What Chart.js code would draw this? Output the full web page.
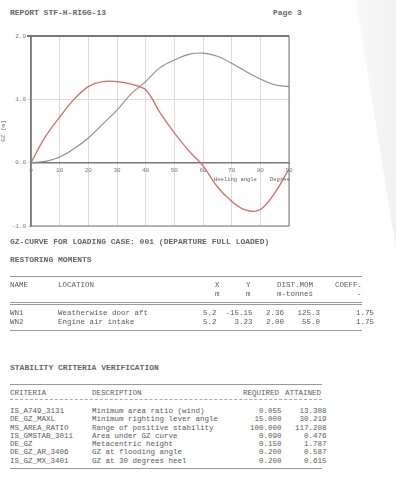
<!DOCTYPE html>
<html>
<head>
<meta charset="utf-8">
<script src="https://cdn.jsdelivr.net/npm/chart.js@4.4.0/dist/chart.umd.min.js"></script>
<style>
body{margin:0;background:#fff;width:396px;height:478px;overflow:hidden;position:relative;
  font-family:"Liberation Mono","DejaVu Sans Mono",monospace;color:#5a5a5a;}
.t{position:absolute;font-size:7.5px;line-height:9px;white-space:pre;}
.h{font-size:8px;font-weight:bold;color:#666;}
.r{position:absolute;height:0;border-top:1px solid #9a9a9a;}
.d{border-top:1px dashed #aaa;}
#wrap{position:absolute;left:0;top:0;width:300px;height:240px;}
#fold{position:absolute;left:340px;top:0;width:56px;height:250px;
  background:linear-gradient(to right,#fcfcfc,#f1f1f1);
  clip-path:polygon(16px 0,56px 0,56px 250px);}
</style>
</head>
<body>
<div id="fold"></div>
<div class="t h" style="left:10px;top:8px;">REPORT STF-H-RIGG-13</div>
<div class="t h" style="left:273px;top:8px;">Page 3</div>

<div id="wrap"><canvas id="gzChart" width="300" height="240"></canvas></div>
<div class="t" style="left:214px;top:175px;font-size:5.5px;">Heeling angle</div>
<div class="t" style="left:270px;top:175px;font-size:5.5px;">Degree</div>

<div class="t h" style="left:10px;top:237px;">GZ-CURVE FOR LOADING CASE: 001 (DEPARTURE FULL LOADED)</div>
<div class="t h" style="left:10px;top:255px;">RESTORING MOMENTS</div>

<!-- table 1 -->
<div class="r" style="left:10px;top:276px;width:352px;"></div>
<div class="t" style="left:10px;top:281px;">NAME</div>
<div class="t" style="left:58px;top:281px;">LOCATION</div>
<div class="t" style="left:215px;top:281px;">X</div>
<div class="t" style="left:246px;top:281px;">Y</div>
<div class="t" style="left:277px;top:281px;">DIST.MOM</div>
<div class="t" style="left:335px;top:281px;">COEFF.</div>
<div class="t" style="left:215px;top:290px;">m</div>
<div class="t" style="left:246px;top:290px;">m</div>
<div class="t" style="left:277px;top:290px;">m-tonnes</div>
<div class="t" style="left:357px;top:290px;">-</div>
<div class="r" style="left:10px;top:302px;width:352px;"></div>
<div class="r" style="left:10px;top:304px;width:352px;"></div>
<div class="t" style="left:10px;top:309px;">WN1</div>
<div class="t" style="left:58px;top:309px;">Weatherwise door aft</div>
<div class="t" style="left:203px;top:309px;">5.2  -15.15   2.36   125.3        1.75</div>
<div class="t" style="left:10px;top:318px;">WN2</div>
<div class="t" style="left:58px;top:318px;">Engine air intake</div>
<div class="t" style="left:203px;top:318px;">5.2    3.23   2.00    55.0        1.75</div>
<div class="r" style="left:10px;top:330px;width:352px;"></div>

<div class="t h" style="left:10px;top:363px;">STABILITY CRITERIA VERIFICATION</div>

<!-- table 2 -->
<div class="r" style="left:10px;top:384px;width:312px;"></div>
<div class="t" style="left:10px;top:389px;">CRITERIA</div>
<div class="t" style="left:92px;top:389px;">DESCRIPTION</div>
<div class="t" style="left:243px;top:389px;">REQUIRED</div>
<div class="t" style="left:285px;top:389px;">ATTAINED</div>
<div class="r d" style="left:10px;top:399px;width:312px;"></div>
<div class="t" style="left:10px;top:407px;">IS_A749_3131</div>
<div class="t" style="left:92px;top:407px;">Minimum area ratio (wind)</div>
<div class="t" style="left:250px;top:407px;">  0.055    13.308</div>
<div class="t" style="left:10px;top:415px;">DE_GZ_MAXL</div>
<div class="t" style="left:92px;top:415px;">Minimum righting lever angle</div>
<div class="t" style="left:250px;top:415px;"> 15.000    30.219</div>
<div class="t" style="left:10px;top:424px;">MS_AREA_RATIO</div>
<div class="t" style="left:92px;top:424px;">Range of positive stability</div>
<div class="t" style="left:250px;top:424px;">100.000   117.208</div>
<div class="t" style="left:10px;top:432px;">IS_GMSTAB_3011</div>
<div class="t" style="left:92px;top:432px;">Area under GZ curve</div>
<div class="t" style="left:250px;top:432px;">  0.090     0.476</div>
<div class="t" style="left:10px;top:440px;">DE_GZ</div>
<div class="t" style="left:92px;top:440px;">Metacentric height</div>
<div class="t" style="left:250px;top:440px;">  0.150     1.787</div>
<div class="t" style="left:10px;top:448px;">DE_GZ_AR_3406</div>
<div class="t" style="left:92px;top:448px;">GZ at flooding angle</div>
<div class="t" style="left:250px;top:448px;">  0.200     0.587</div>
<div class="t" style="left:10px;top:457px;">IS_GZ_MX_3401</div>
<div class="t" style="left:92px;top:457px;">GZ at 30 degrees heel</div>
<div class="t" style="left:250px;top:457px;">  0.200     0.615</div>
<div class="r" style="left:10px;top:468px;width:312px;"></div>

<script>
// heel angles (deg) and the two curves
const angles = [0, 5, 10, 15, 20, 25, 30, 35, 40, 45, 50, 55, 60, 65, 70, 75, 80, 85, 90];
const gzValues = [0, 0.41, 0.72, 1.0, 1.2, 1.28, 1.28, 1.24, 1.15, 0.79, 0.47, 0.19, -0.05, -0.38, -0.61, -0.75, -0.74, -0.48, -0.1];
const heelValues = [0, 0.02, 0.09, 0.22, 0.39, 0.61, 0.83, 1.09, 1.28, 1.5, 1.62, 1.71, 1.73, 1.68, 1.57, 1.44, 1.32, 1.23, 1.2];
const xTicks = [0, 10, 20, 30, 40, 50, 60, 70, 80, 90];
const yTicks = [-1, 0, 1, 2];

// box round the plot, heavier line on top
const frame = {
    id: "frame",
    afterDraw(chart) {
        const { ctx, chartArea: a } = chart;
        ctx.save();
        ctx.strokeStyle = "#777";
        ctx.lineWidth = 1;
        ctx.strokeRect(a.left, a.top, a.right - a.left, a.bottom - a.top);
        ctx.lineWidth = 2;
        ctx.beginPath();
        ctx.moveTo(a.left - 4, a.top);
        ctx.lineTo(a.right, a.top);
        ctx.stroke();
        ctx.restore();
    }
};

const ctx = document.getElementById("gzChart").getContext("2d");
new Chart(ctx, {
    type: "line",
    data: {
        datasets: [{
            label: "GZ",
            data: angles.map((a, i) => ({ x: a, y: gzValues[i] })),
            borderColor: "#d76a6a",
            borderWidth: 1.3,
            pointRadius: 0,
            tension: 0.35
        }, {
            label: "Heeling lever",
            data: angles.map((a, i) => ({ x: a, y: heelValues[i] })),
            borderColor: "#8c8c8c",
            borderWidth: 1.1,
            pointRadius: 0,
            tension: 0.35
        }]
    },
    options: {
        responsive: false,
        animation: false,
        layout: { padding: { top: 36, bottom: 14, left: 0, right: 11 } },
        plugins: { legend: { display: false }, tooltip: { enabled: false } },
        scales: {
            x: {
                type: "linear",
                min: 0, max: 90,
                position: { y: 0 },
                afterBuildTicks: s => { s.ticks = xTicks.map(v => ({ value: v })); },
                ticks: { color: "#777", font: { size: 6, family: "Liberation Mono" }, padding: 1 },
                grid: { color: "#dcdcdc", tickLength: 3 },
                border: { color: "#777", width: 1.5 }
            },
            y: {
                min: -1, max: 2,
                afterBuildTicks: s => { s.ticks = yTicks.map(v => ({ value: v })); },
                afterFit: s => { s.width = 31; },
                ticks: { color: "#777", font: { size: 6, family: "Liberation Mono" }, padding: 2,
                    callback: v => v.toFixed(1) },
                title: { display: true, text: "GZ [m]", color: "#777", font: { size: 6, family: "Liberation Mono" }, padding: 0 },
                grid: { color: "#dcdcdc", tickLength: 3 },
                border: { color: "#777", width: 1.5 }
            }
        }
    },
    plugins: [frame]
});
</script>
</body>
</html>
